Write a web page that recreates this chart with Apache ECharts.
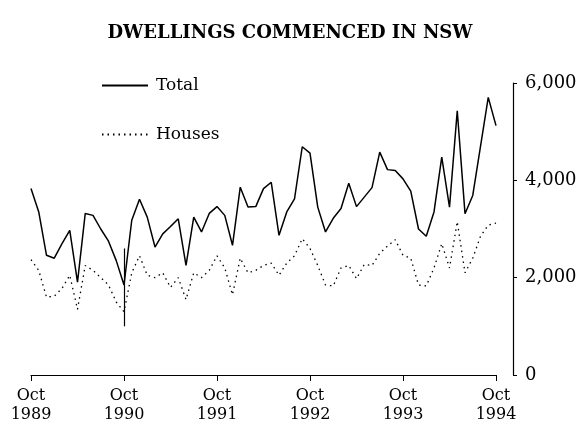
<!DOCTYPE html>
<html>
<head>
<meta charset="utf-8">
<script src="https://cdn.jsdelivr.net/npm/echarts@6/dist/echarts.min.js"></script>
<style>html,body{margin:0;padding:0;background:#fff}#c{width:580px;height:430px}</style>
</head>
<body>
<div id="c"></div>
<script>
var titleText = 'DWELLINGS COMMENCED IN NSW';
var monthNames = ['Oct','Nov','Dec','Jan','Feb','Mar','Apr','May','Jun','Jul','Aug','Sep'];
var startYear = 1989;
var nMonths = 61;
var total = [3830,3350,2460,2400,2700,2970,1910,3320,3280,3000,2750,2350,
  1850,3180,3610,3245,2630,2900,3050,3210,2255,3245,2940,3320,
  3460,3280,2665,3860,3450,3460,3830,3960,2870,3350,3620,4690,
  4560,3450,2940,3220,3420,3940,3460,3655,3850,4580,4220,4200,
  4030,3780,3000,2850,3350,4475,3450,5430,3315,3690,4700,5705,5125];
var houses = [2370,2150,1600,1620,1780,2050,1350,2250,2150,2000,1850,1500,
  1300,2100,2450,2050,2000,2100,1800,2000,1550,2100,2000,2150,
  2450,2200,1650,2400,2100,2150,2250,2300,2050,2300,2450,2800,
  2600,2250,1850,1830,2200,2250,1980,2270,2250,2500,2650,2780,
  2460,2400,1850,1830,2200,2700,2200,3150,2100,2400,2850,3080,3120];
var breakIndex = 12, breakTop = 2600, breakBottom = 1000;

var categories = [];
for (var i = 0; i < nMonths; i++) {
  var m = monthNames[i % 12];
  var yr = startYear + Math.floor((i + 9) / 12);
  categories.push(m + '\n' + yr);
}
var FONT = '"DejaVu Serif", "Liberation Serif", serif';
var chart = echarts.init(document.getElementById('c'), null, {renderer: 'canvas'});
chart.setOption({
  animation: false,
  backgroundColor: '#fff',
  title: {
    text: titleText, left: 'center', top: 19,
    textStyle: {fontFamily: FONT, fontWeight: 'bold', fontSize: 18, color: '#000'}
  },
  legend: {
    orient: 'vertical', left: 96, top: 72, itemGap: 32,
    itemWidth: 46, itemHeight: 14,
    itemStyle: {color: 'rgba(0,0,0,0)', borderWidth: 0, opacity: 0},
    textStyle: {fontFamily: FONT, fontSize: 17, color: '#000', padding: [0,0,0,3]},
    data: ['Total', 'Houses']
  },
  grid: {left: 31, right: 84, top: 83, bottom: 55, containLabel: false},
  xAxis: {
    type: 'category', data: categories, boundaryGap: false,
    axisLine: {lineStyle: {color: '#000', width: 1.2}},
    axisTick: {interval: 11, length: 6, lineStyle: {color: '#000'}},
    axisLabel: {interval: 11, color: '#000', fontFamily: FONT, fontSize: 16, lineHeight: 19, margin: 11},
    splitLine: {show: false}
  },
  yAxis: {
    type: 'value', position: 'right', offset: 17, min: 0, max: 6000, interval: 2000,
    axisLine: {show: true, lineStyle: {color: '#000', width: 1.2}},
    axisTick: {show: true, length: 4, lineStyle: {color: '#000'}},
    axisLabel: {color: '#000', fontFamily: FONT, fontSize: 18, margin: 12,
      formatter: function (v) { return v.toLocaleString('en-US'); }},
    splitLine: {show: false}
  },
  series: [
    {name: 'Total', type: 'line', data: total, symbol: 'none',
     lineStyle: {color: '#000', width: 1.5}, itemStyle: {color: '#000'},
     markLine: {silent: true, symbol: 'none', label: {show: false},
       lineStyle: {color: '#000', width: 1.2, type: 'solid'},
       data: [[{coord: [breakIndex, breakTop]}, {coord: [breakIndex, breakBottom]}]]}},
    {name: 'Houses', type: 'line', data: houses, symbol: 'none',
     lineStyle: {color: '#000', width: 1.3, type: [1.5, 4]}, itemStyle: {color: '#000'}}
  ]
});
</script>
</body>
</html>
